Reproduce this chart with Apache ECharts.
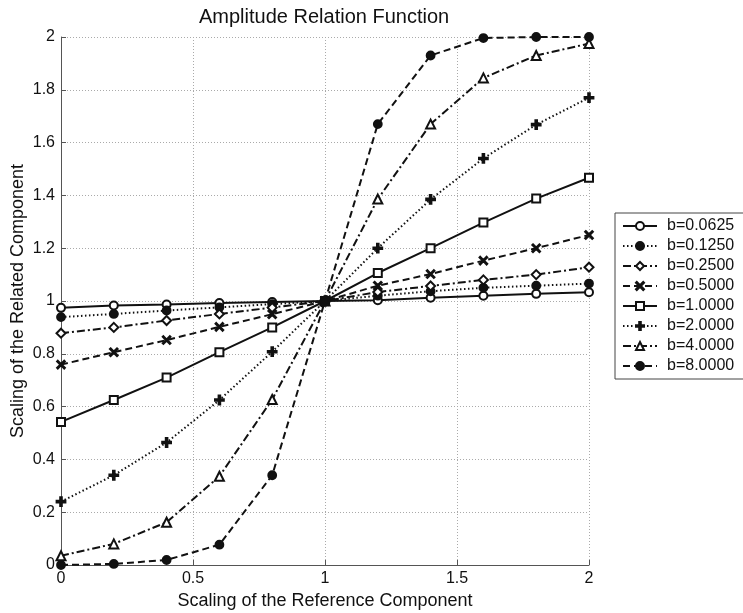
<!DOCTYPE html>
<html>
<head>
<meta charset="utf-8">
<script src="https://cdn.jsdelivr.net/npm/echarts@6/dist/echarts.min.js"></script>
<style>
    html, body {margin: 0; padding: 0; background: #fff;}
    #chart {width: 743px; height: 613px;}
</style>
</head>
<body>
<div id="chart"></div>
<script>
    // x positions (scaling of reference component)
    var xs = [0, 0.2, 0.4, 0.6, 0.8, 1.0, 1.2, 1.4, 1.6, 1.8, 2.0];
    var names = ['b=0.0625', 'b=0.1250', 'b=0.2500', 'b=0.5000', 'b=1.0000', 'b=2.0000', 'b=4.0000', 'b=8.0000'];
    var b0625 = [0.974, 0.983, 0.987, 0.992, 0.996, 1.0, 1.003, 1.012, 1.020, 1.027, 1.033];
    var b125 = [0.939, 0.951, 0.964, 0.976, 0.988, 1.0, 1.020, 1.037, 1.050, 1.058, 1.066];
    var b25 = [0.878, 0.900, 0.926, 0.951, 0.975, 1.0, 1.034, 1.057, 1.080, 1.100, 1.128];
    var b5 = [0.759, 0.806, 0.852, 0.902, 0.950, 1.0, 1.058, 1.102, 1.153, 1.200, 1.250];
    var b1 = [0.542, 0.625, 0.710, 0.806, 0.900, 1.0, 1.106, 1.200, 1.297, 1.388, 1.467];
    var b2 = [0.240, 0.340, 0.464, 0.625, 0.808, 1.0, 1.200, 1.385, 1.540, 1.668, 1.770];
    var b4 = [0.035, 0.080, 0.162, 0.336, 0.627, 1.0, 1.386, 1.670, 1.845, 1.930, 1.975];
    var b8 = [0.000, 0.004, 0.019, 0.077, 0.340, 1.0, 1.670, 1.930, 1.996, 2.000, 2.000];

    var plusPath = 'path://M4,0H6V4H10V6H6V10H4V6H0V4H4Z';
    var crossPath = 'path://M1,0L5,4L9,0L10,1L6,5L10,9L9,10L5,6L1,10L0,9L4,5L0,1Z';

    function pairs(ys) {
        return xs.map(function (x, i) { return [x, ys[i]]; });
    }

    //线型 / 标记
    var styles = [
        {data: b0625, symbol: 'emptyCircle', size: 8, type: 'solid'},
        {data: b125, symbol: 'circle', size: 8, type: [1.5, 2.5]},
        {data: b25, symbol: 'emptyDiamond', size: 9, type: [8, 3, 2, 3]},
        {data: b5, symbol: crossPath, size: 8, type: [7, 4]},
        {data: b1, symbol: 'emptyRect', size: 8, type: 'solid'},
        {data: b2, symbol: plusPath, size: 9, type: [1.5, 2.5]},
        {data: b4, symbol: 'emptyTriangle', size: 9, type: [8, 3, 2, 3]},
        {data: b8, symbol: 'circle', size: 8, type: [7, 4]}
    ];

    var series = styles.map(function (s, i) {
        return {
            name: names[i],
            type: 'line',
            data: pairs(s.data),
            symbol: s.symbol,
            symbolSize: s.size,
            showAllSymbol: true,
            animation: false,
            itemStyle: {color: '#111', borderColor: '#111', borderWidth: 1.8},
            lineStyle: {color: '#111', width: 2, type: s.type}
        };
    });

    var chart = echarts.init(document.getElementById('chart'));
    var option = {
        backgroundColor: '#fff',
        animation: false,
        textStyle: {fontFamily: 'Liberation Sans, Arial, sans-serif', color: '#111'},
        title: {
            text: 'Amplitude Relation Function',
            left: 194,
            top: 2,
            textStyle: {fontSize: 20, fontWeight: 'normal', color: '#111'}
        },
        legend: {
            orient: 'vertical',
            left: 615,
            top: 213,
            padding: [5, 20, 5, 7],
            itemWidth: 34,
            itemHeight: 10,
            itemGap: 4,
            borderColor: '#444',
            borderWidth: 1,
            backgroundColor: '#fff',
            textStyle: {fontSize: 16, color: '#111', padding: [0, 0, 0, 5]},
            data: names
        },
        grid: {left: 61, right: 154, top: 37, bottom: 48, outerBoundsMode: 'none', containLabel: false},
        xAxis: {
            type: 'value',
            min: 0,
            max: 2,
            interval: 0.5,
            name: 'Scaling of the Reference Component',
            nameLocation: 'middle',
            nameGap: 27,
            nameTextStyle: {fontSize: 18, color: '#111'},
            axisLine: {lineStyle: {color: '#555', width: 1}},
            axisTick: {inside: true, length: 5, lineStyle: {color: '#555'}},
            axisLabel: {fontSize: 16, color: '#111', margin: 6},
            splitLine: {show: true, lineStyle: {color: '#aaa', type: [1, 2], width: 1}}
        },
        yAxis: {
            type: 'value',
            min: 0,
            max: 2,
            interval: 0.2,
            name: 'Scaling of the Related Component',
            nameLocation: 'middle',
            nameGap: 34,
            nameMoveOverlap: false,
            nameTextStyle: {fontSize: 18, color: '#111'},
            axisLine: {show: true, lineStyle: {color: '#555', width: 1}},
            axisTick: {show: true, inside: true, length: 5, lineStyle: {color: '#555'}},
            axisLabel: {fontSize: 16, color: '#111', margin: 6},
            splitLine: {show: true, lineStyle: {color: '#aaa', type: [1, 2], width: 1}}
        },
        series: series
    };
    chart.setOption(option);
</script>
</body>
</html>
